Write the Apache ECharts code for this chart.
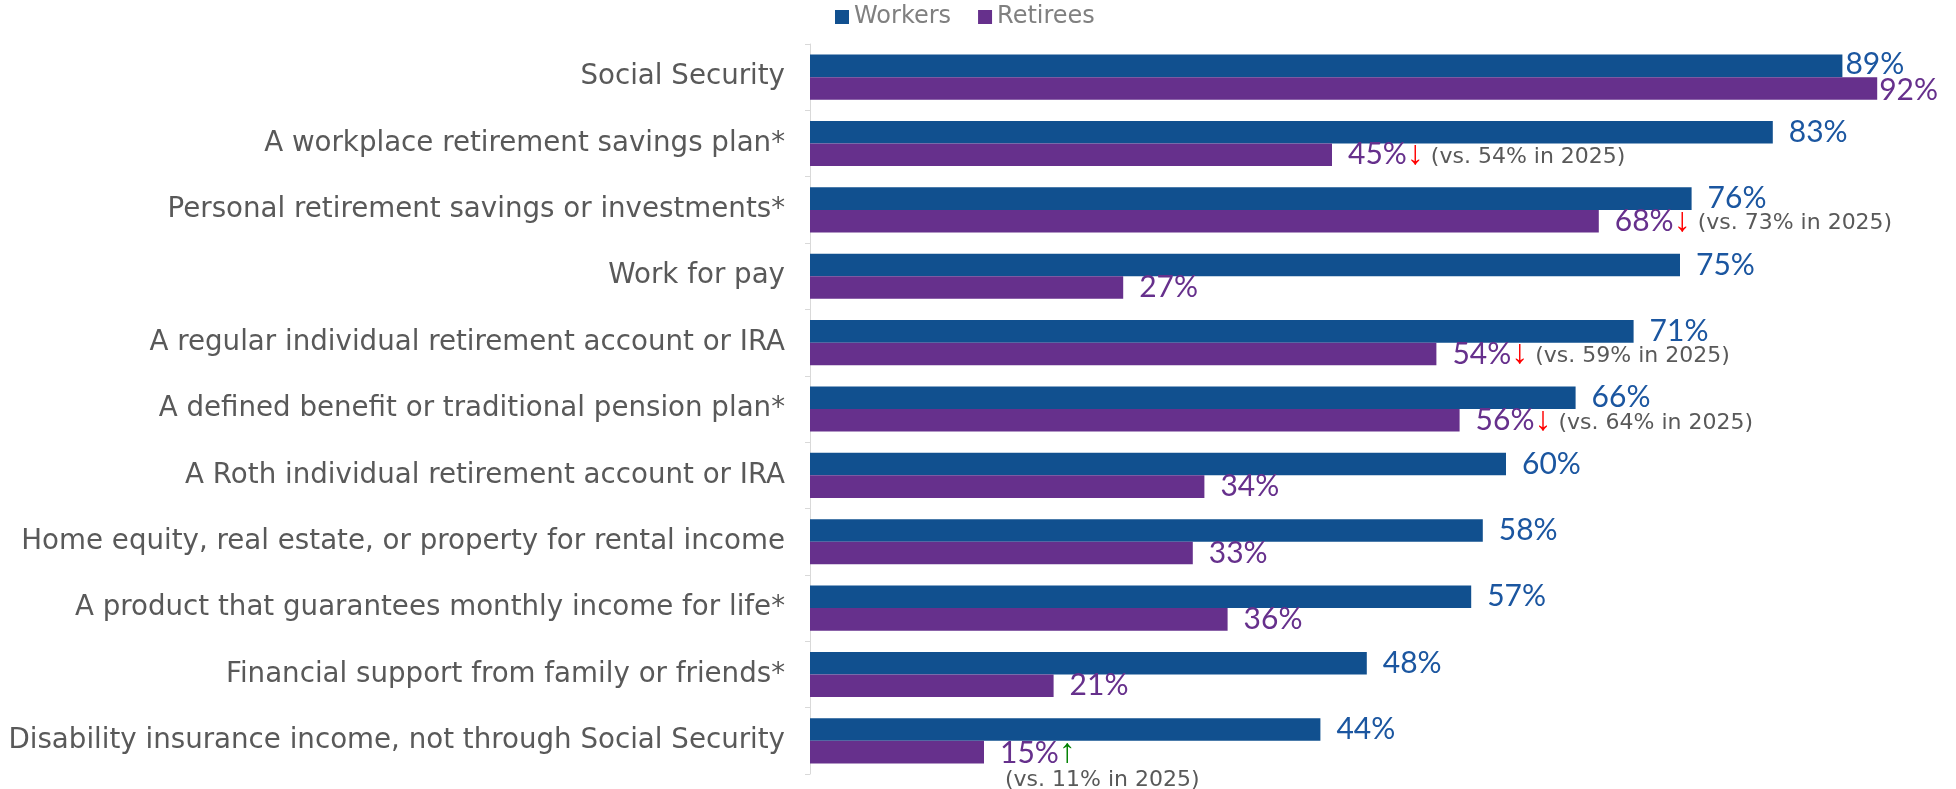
<!DOCTYPE html>
<html>
<head>
<meta charset="utf-8">
<script src="https://cdn.jsdelivr.net/npm/echarts@6/dist/echarts.min.js"></script>
<style>html,body{margin:0;padding:0;background:#fff}#c{width:1956px;height:789px}</style>
</head>
<body>
<div id="c"></div>
<script>
const categories = [
  "Social Security",
  "A workplace retirement savings plan*",
  "Personal retirement savings or investments*",
  "Work for pay",
  "A regular individual retirement account or IRA",
  "A defined benefit or traditional pension plan*",
  "A Roth individual retirement account or IRA",
  "Home equity, real estate, or property for rental income",
  "A product that guarantees monthly income for life*",
  "Financial support from family or friends*",
  "Disability insurance income, not through Social Security"
];
const workers  = [89, 83, 76, 75, 71, 66, 60, 58, 57, 48, 44];
const retirees = [92, 45, 68, 27, 54, 56, 34, 33, 36, 21, 15];
// 2025 comparison values for retirees (null = no significant change shown)
const retirees2025 = [null, 54, 73, null, 59, 64, null, null, null, null, 11];

const BLUE = '#11508F', PURPLE = '#66308C', GREY = '#595959';
const FONT = 'Lato';
const WIDE = 'DejaVu Sans';

const chart = echarts.init(document.getElementById('c'), null, {renderer: 'canvas'});

const workerData = workers.map((v, i) => i === 0 ? {value: v, label: {distance: 3, offset: [0, -2]}} : v);
const retireeData = retirees.map((v, i) => {
  if (i === 0) return {value: v, label: {distance: 2, offset: [0, 2]}};
  if (retirees2025[i] !== null && retirees2025[i] < v) return {value: v, label: {offset: [0, 12]}};
  return v;
});

chart.setOption({
  animation: false,
  textStyle: {fontFamily: FONT},
  legend: {
    data: ['Workers', 'Retirees'],
    left: 830, top: 0,
    icon: 'rect', itemWidth: 14, itemHeight: 14, itemGap: 27,
    textStyle: {fontSize: 24, color: '#808080', fontFamily: WIDE}
  },
  grid: {left: 810, top: 44, width: 1160, height: 730, outerBoundsMode: 'none', containLabel: false},
  xAxis: {
    type: 'value', min: 0, max: 100,
    show: false
  },
  yAxis: {
    type: 'category', data: categories, inverse: true,
    axisLine: {show: true, lineStyle: {color: '#D9D9D9', width: 1}},
    axisTick: {show: true, length: 5, lineStyle: {color: '#D9D9D9'}},
    axisLabel: {fontSize: 27.7, color: GREY, margin: 25, fontFamily: WIDE, padding: [4, 0, 0, 0]}
  },
  series: [
    {
      name: 'Workers', type: 'bar', data: workerData,
      barGap: '0%', barCategoryGap: '32%',
      itemStyle: {color: BLUE},
      label: {show: true, position: 'right', distance: 16, color: '#1B56A0', fontSize: 30, fontFamily: FONT,
        formatter: p => p.value + '%'}
    },
    {
      name: 'Retirees', type: 'bar', data: retireeData,
      itemStyle: {color: PURPLE},
      label: {
        show: true, position: 'right', distance: 16, fontFamily: FONT,
        formatter: p => {
          const i = p.dataIndex, prev = retirees2025[i];
          const v = '{v|' + p.value + '%}';
          if (prev === null) return v;
          if (prev > p.value) return v + '{dn|↓}{note| (vs. ' + prev + '% in 2025)}';
          return v + '{up|↑}\n{note2|(vs. ' + prev + '% in 2025)}';
        },
        rich: {
          v: {fontSize: 30, color: PURPLE, fontFamily: FONT, lineHeight: 32},
          dn: {fontSize: 34, color: '#FF0000', fontWeight: 'bold', fontFamily: 'Liberation Sans', lineHeight: 32},
          up: {fontSize: 34, color: '#008000', fontWeight: 'bold', fontFamily: 'Liberation Sans', lineHeight: 32},
          note: {fontSize: 22, color: GREY, fontFamily: WIDE, padding: [5, 0, 0, 0]},
          note2: {fontSize: 22, color: GREY, fontFamily: WIDE, padding: [0, 0, 0, 5]}
        }
      }
    }
  ]
});
</script>
</body>
</html>
